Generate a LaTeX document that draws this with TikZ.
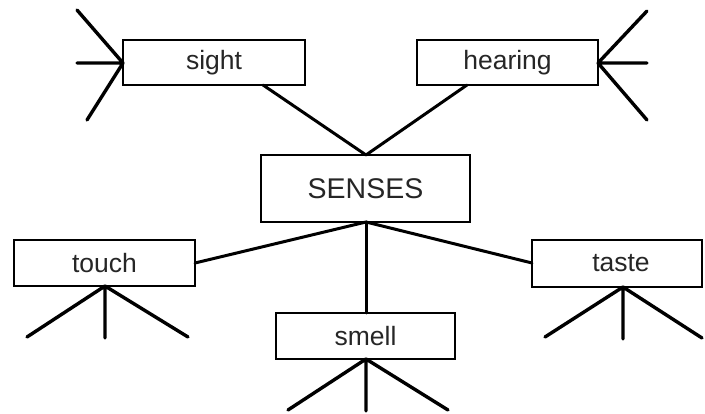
\documentclass[tikz,border=0pt]{standalone}
\usepackage{fontspec}
\setmainfont{Liberation Sans}
\begin{document}
\begin{tikzpicture}[x=1pt,y=-1pt,
  sense/.style={draw=black, line width=2.2pt, fill=white, inner sep=0pt, text=black!85, font=\fontsize{26.5}{30}\selectfont},
  conn/.style={line width=3pt, line cap=round},
  leg/.style={line width=3.4pt, line cap=round}]
\useasboundingbox (0,0) rectangle (705,414);
% boxes
\node[sense, minimum width=182pt, minimum height=45pt] (sight) at (214,62.5) {sight};
\node[sense, minimum width=181pt, minimum height=45pt] (hearing) at (507.5,62.5) {hearing};
\node[sense, minimum width=209pt, minimum height=67pt, font=\fontsize{28.5}{32}\selectfont] (senses) at (365.5,188.5) {SENSES};
\node[sense, minimum width=181pt, minimum height=46pt] (touch) at (104.5,263) {touch};
\node[sense, minimum width=170pt, minimum height=47pt, text width=170pt, align=center] (taste) at (617,263.5) {\hspace*{8pt}taste};
\node[sense, minimum width=179pt, minimum height=46pt] (smell) at (365.5,336) {smell};
% attachment points
\coordinate (sightB) at (263,85);
\coordinate (hearB) at (467,85);
\coordinate (senT) at (366,155);
\coordinate (senB) at (366,222);
\coordinate (touchR) at (195,263);
\coordinate (tasteL) at (532,263);
\coordinate (smellT) at (366,313);
% connectors
\draw[conn] (sightB) -- (senT);
\draw[conn] (hearB) -- (senT);
\draw[conn] (senB) -- (touchR);
\draw[conn] (senB) -- (tasteL);
\draw[conn] (senB) -- (smellT);
% legs
\coordinate (sightL) at (123,63);
\coordinate (s1) at (77,10);
\coordinate (s2) at (77,63);
\coordinate (s3) at (87,120);
\draw[leg] (sightL) -- (s1) (sightL) -- (s2) (sightL) -- (s3);
\coordinate (hearR) at (598,63);
\coordinate (h1) at (647,11);
\coordinate (h2) at (647,63);
\coordinate (h3) at (647,120);
\draw[leg] (hearR) -- (h1) (hearR) -- (h2) (hearR) -- (h3);
\coordinate (touchB) at (105,286);
\coordinate (t1) at (27,337);
\coordinate (t2) at (105,338);
\coordinate (t3) at (188,337);
\draw[leg] (touchB) -- (t1) (touchB) -- (t2) (touchB) -- (t3);
\coordinate (tasteB) at (623,287);
\coordinate (a1) at (545,337);
\coordinate (a2) at (623,339);
\coordinate (a3) at (702,338);
\draw[leg] (tasteB) -- (a1) (tasteB) -- (a2) (tasteB) -- (a3);
\coordinate (smellB) at (366,359);
\coordinate (m1) at (288,410);
\coordinate (m2) at (366,411);
\coordinate (m3) at (448,410);
\draw[leg] (smellB) -- (m1) (smellB) -- (m2) (smellB) -- (m3);
\end{tikzpicture}
\end{document}
